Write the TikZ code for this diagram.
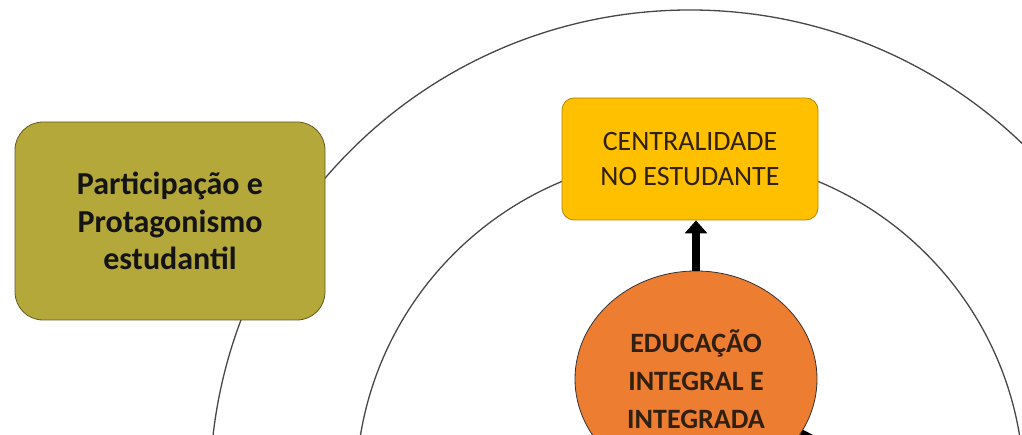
\documentclass[tikz,border=0pt]{standalone}
\usepackage{fontspec}
\setmainfont{Carlito}
\usetikzlibrary{shapes.geometric, arrows.meta}

\definecolor{ouro}{HTML}{FFC000}
\definecolor{oliva}{HTML}{B4A83A}
\definecolor{laranja}{HTML}{ED7D31}

\begin{document}
\begin{tikzpicture}[x=1pt, y=1pt, circulo/.style={draw=black!72, line width=1.3pt}, caixa/.style={rectangle, rounded corners=12pt, align=center, inner sep=0pt, line width=0.8pt}, seta/.style={-{Triangle[width=22pt, length=13pt]}, line width=8pt}]
        \useasboundingbox (0,0) rectangle (1022,435);
        \clip (0,0) rectangle (1022,435);

        % Círculos
        \coordinate (centro) at (690,-55);
        \draw[circulo] (centro) circle[radius=480pt];
        \draw[circulo] (centro) circle[radius=334pt];

        % Nós
        \node[caixa, fill=oliva, draw=oliva!55!black, minimum width=310pt, minimum height=198pt, rounded corners=28pt, text=black!92, font=\bfseries\fontsize{32}{37.5}\selectfont] (prot) at (170,214) {Participação e\\Protagonismo\\estudantil};
        \node[caixa, fill=ouro, draw=ouro!70!black, minimum width=256pt, minimum height=122pt, text=brown!25!black, font=\fontsize{28}{35}\selectfont] (cent) at (690,276) {CENTRALIDADE\\NO ESTUDANTE};
        \node[ellipse, fill=laranja, draw=black!80, line width=0.8pt, minimum width=242pt, minimum height=216pt, inner sep=0pt, align=center, text=brown!25!black, font=\bfseries\fontsize{28}{38}\selectfont] (edu) at (696,56) {EDUCAÇÃO\\INTEGRAL E\\INTEGRADA};

        % Setas
        \coordinate (saida) at (905,-52);
        \draw[seta] (edu.north) -- (edu.north |- cent.south);
        \draw[line width=8pt] (edu) -- (saida);
    \end{tikzpicture}
\end{document}
